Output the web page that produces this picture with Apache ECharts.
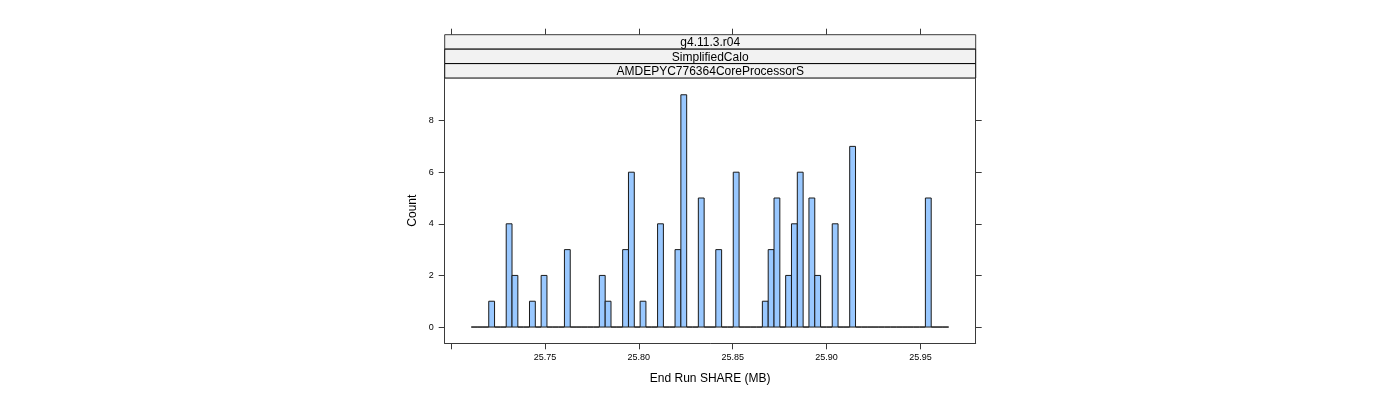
<!DOCTYPE html>
<html lang="en">
<head>
    <meta charset="UTF-8">
    <script type="text/javascript" src="https://cdn.jsdelivr.net/npm/echarts@6/dist/echarts.min.js"></script>
    <style>
        html, body { margin: 0; padding: 0; background: #fff; }
        #chart { width: 1400px; height: 400px; }
    </style>
</head>
<body>
<div id="chart"></div>
<script>
    // histogram bins: first edge + width, one count per bin
    var binStart = 25.7108;
    var binWidth = 0.0031;
    var counts = [
        0, 0, 0, 1, 0, 0, 4, 2, 0, 0,
        1, 0, 2, 0, 0, 0, 3, 0, 0, 0,
        0, 0, 2, 1, 0, 0, 3, 6, 0, 1,
        0, 0, 4, 0, 0, 3, 9, 0, 0, 5,
        0, 0, 3, 0, 0, 6, 0, 0, 0, 0,
        1, 3, 5, 0, 2, 4, 6, 0, 5, 2,
        0, 0, 4, 0, 0, 7, 0, 0, 0, 0,
        0, 0, 0, 0, 0, 0, 0, 0, 5, 0,
        0, 0
    ];
    var xTicks = [25.70, 25.75, 25.80, 25.85, 25.90, 25.95];
    var xLabels = [25.75, 25.80, 25.85, 25.90, 25.95];
    var yTicks = [0, 2, 4, 6, 8];
    var strips = ['g4.11.3.r04', 'SimplifiedCalo', 'AMDEPYC776364CoreProcessorS'];

    var bins = counts.map(function (c, i) {
        return [binStart + i * binWidth, binStart + (i + 1) * binWidth, c];
    });

    var FONT = 'Liberation Sans, Arial, sans-serif';
    var LINE = '#3a3a3a';
    var panelL = 444.7, panelR = 975.7, stripTop = 34.7, stripH = 14.45;

    var stripGraphics = [];
    strips.forEach(function (s, i) {
        stripGraphics.push({
            type: 'rect',
            shape: {x: panelL, y: stripTop + i * stripH, width: panelR - panelL, height: stripH},
            style: {fill: '#f2f2f2', stroke: i === 0 ? LINE : '#000', lineWidth: 1},
            silent: true
        });
        stripGraphics.push({
            type: 'text',
            x: (panelL + panelR) / 2,
            y: stripTop + i * stripH + stripH / 2 + 1,
            style: {text: s, fill: '#000', font: '12px ' + FONT, align: 'center', verticalAlign: 'middle'},
            silent: true
        });
    });

    var tickStyle = {show: true, inside: false, length: 6, lineStyle: {color: LINE}};
    var lineStyle = {show: true, onZero: false, lineStyle: {color: LINE, width: 1}};

    var myChart = echarts.init(document.getElementById('chart'));
    myChart.setOption({
        backgroundColor: '#fff',
        animation: false,
        grid: {left: panelL, right: 1400 - panelR, top: 78, bottom: 400 - 343.3, containLabel: false},
        xAxis: [
            {
                type: 'value',
                position: 'bottom',
                min: 25.69665,
                max: 25.97939,
                axisLine: lineStyle,
                axisTick: Object.assign({customValues: xTicks}, tickStyle),
                splitLine: {show: false},
                axisLabel: {
                    customValues: xLabels,
                    formatter: function (v) { return v.toFixed(2); },
                    color: '#000', fontSize: 9, fontFamily: FONT, margin: 10
                },
                name: 'End Run SHARE (MB)',
                nameLocation: 'middle',
                nameGap: 29,
                nameTextStyle: {color: '#000', fontSize: 12, fontFamily: FONT}
            },
            {
                type: 'value',
                position: 'top',
                offset: 78 - stripTop,
                min: 25.69665,
                max: 25.97939,
                axisLine: {show: false, onZero: false},
                axisTick: Object.assign({customValues: xTicks}, tickStyle),
                splitLine: {show: false},
                axisLabel: {show: false}
            }
        ],
        yAxis: [
            {
                type: 'value',
                position: 'left',
                min: -0.63,
                max: 9.65,
                axisLine: lineStyle,
                axisTick: Object.assign({customValues: yTicks}, tickStyle),
                splitLine: {show: false},
                axisLabel: {
                    customValues: yTicks,
                    color: '#000', fontSize: 9, fontFamily: FONT, margin: 11
                },
                name: 'Count',
                nameLocation: 'middle',
                nameGap: 26,
                nameRotate: 90,
                nameTextStyle: {color: '#000', fontSize: 12, fontFamily: FONT}
            },
            {
                type: 'value',
                position: 'right',
                min: -0.63,
                max: 9.65,
                axisLine: lineStyle,
                axisTick: Object.assign({customValues: yTicks}, tickStyle),
                splitLine: {show: false},
                axisLabel: {show: false}
            }
        ],
        graphic: stripGraphics,
        series: [
            {
                name: 'hist',
                type: 'custom',
                xAxisIndex: 0,
                yAxisIndex: 0,
                data: bins,
                silent: true,
                renderItem: function (params, api) {
                    var p0 = api.coord([api.value(0), api.value(2)]);
                    var p1 = api.coord([api.value(1), 0]);
                    return {
                        type: 'rect',
                        shape: {x: p0[0], y: p0[1], width: p1[0] - p0[0], height: p1[1] - p0[1]},
                        style: {fill: '#99c8ff', stroke: '#1a1a1a', lineWidth: 1}
                    };
                }
            }
        ]
    });
</script>
</body>
</html>
